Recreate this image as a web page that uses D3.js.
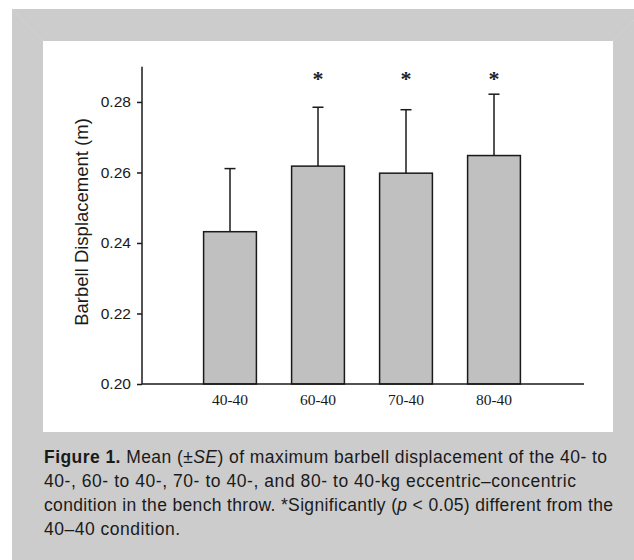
<!DOCTYPE html>
<html>
<head>
<meta charset="utf-8">
<script src="https://cdn.jsdelivr.net/npm/d3@7"></script>
<style>
  body { margin: 0; background: #fff; }
  svg { display: block; }
</style>
</head>
<body>
<svg id="chart" width="634" height="560"></svg>
<script>
// data
const categories = ["40-40", "60-40", "70-40", "80-40"];
const means = [0.2432, 0.2618, 0.2598, 0.2648];
const se = [0.0179, 0.0167, 0.0180, 0.0174];
const significant = [false, true, true, true];
const yTicks = [0.20, 0.22, 0.24, 0.26, 0.28];

const captionLines = [
    [{ t: "Figure 1.", b: true }, { t: " Mean (\u00B1" }, { t: "SE", i: true }, { t: ") of maximum barbell displacement of the 40- to" }],
    [{ t: "40-, 60- to 40-, 70- to 40-, and 80- to 40-kg eccentric\u2013concentric" }],
    [{ t: "condition in the bench throw. *Significantly (" }, { t: "p", i: true }, { t: " < 0.05) different from the" }],
    [{ t: "40\u201340 condition." }]
];
// right end of each caption line in the figure
const captionEnds = [607, 576, 613, 180];

var svg = d3.select("#chart");

// frame
svg.append("rect").attr("x", 12).attr("y", 9).attr("width", 622).attr("height", 551).attr("fill", "#cccccc");
svg.append("rect").attr("x", 43).attr("y", 41).attr("width", 570).attr("height", 391).attr("fill", "#ffffff");
// faint bevel corners
svg.append("line").attr("x1", 12).attr("y1", 9).attr("x2", 43).attr("y2", 41).attr("stroke", "#d2d2d2").attr("stroke-width", 1);
svg.append("line").attr("x1", 634).attr("y1", 20).attr("x2", 613).attr("y2", 41).attr("stroke", "#d2d2d2").attr("stroke-width", 1);

var axisX0 = 142, axisX1 = 584;

var x = d3.scaleBand()
    .domain(categories)
    .range([186, 538])
    .paddingInner(0.4)
    .paddingOuter(0.2);

var y = d3.scaleLinear()
    .domain([0.20, 0.29])
    .range([384, 66.7]);

var g = svg.append("g");

// bars
g.selectAll("rect.bar")
    .data(categories)
    .join("rect")
    .attr("class", "bar")
    .attr("x", d => x(d))
    .attr("width", x.bandwidth())
    .attr("y", (d, i) => y(means[i]))
    .attr("height", (d, i) => y(0.20) - y(means[i]))
    .attr("fill", "#c0c0c0")
    .attr("stroke", "#1a1a1a")
    .attr("stroke-width", 1.5);

// error bars (upper only)
var cx = d => x(d) + x.bandwidth() / 2;
g.selectAll("line.err")
    .data(categories)
    .join("line")
    .attr("x1", cx).attr("x2", cx)
    .attr("y1", (d, i) => y(means[i]))
    .attr("y2", (d, i) => y(means[i] + se[i]))
    .attr("stroke", "#1a1a1a")
    .attr("stroke-width", 1.5);

g.selectAll("line.cap")
    .data(categories)
    .join("line")
    .attr("x1", d => cx(d) - 5.5).attr("x2", d => cx(d) + 5.5)
    .attr("y1", (d, i) => y(means[i] + se[i]))
    .attr("y2", (d, i) => y(means[i] + se[i]))
    .attr("stroke", "#1a1a1a")
    .attr("stroke-width", 1.5);

// significance stars
g.selectAll("text.star")
    .data(categories.filter((d, i) => significant[i]))
    .join("text")
    .attr("x", cx)
    .attr("y", 86)
    .attr("text-anchor", "middle")
    .attr("font-family", "Liberation Serif, Times New Roman, serif")
    .attr("font-weight", "bold")
    .attr("font-size", 22)
    .attr("fill", "#222")
    .text("*");

// y axis
var yAxis = d3.axisLeft(y)
    .tickValues(yTicks)
    .tickFormat(d3.format(".2f"))
    .tickSize(5)
    .tickSizeOuter(0);

var yg = svg.append("g")
    .attr("transform", "translate(" + axisX0 + ",0)")
    .call(yAxis);
yg.select(".domain").remove();
yg.selectAll("line").attr("stroke", "#1a1a1a").attr("stroke-width", 1.5);
yg.selectAll("text")
    .attr("font-family", "Liberation Sans, Arial, sans-serif")
    .attr("font-size", 15.5)
    .attr("fill", "#1a1a1a")
    .attr("dx", "-0.2em");

svg.append("line")
    .attr("x1", axisX0).attr("x2", axisX0)
    .attr("y1", y(0.29)).attr("y2", y(0.20))
    .attr("stroke", "#1a1a1a").attr("stroke-width", 1.5);

// x axis
svg.append("line")
    .attr("x1", axisX0).attr("x2", axisX1)
    .attr("y1", y(0.20)).attr("y2", y(0.20))
    .attr("stroke", "#1a1a1a").attr("stroke-width", 1.5);

svg.selectAll("text.xlab")
    .data(categories)
    .join("text")
    .attr("class", "xlab")
    .attr("x", cx)
    .attr("y", 405)
    .attr("text-anchor", "middle")
    .attr("font-family", "Liberation Serif, Times New Roman, serif")
    .attr("font-size", 15.5)
    .attr("fill", "#1a1a1a")
    .text(d => d);

// y label
svg.append("text")
    .attr("transform", "translate(88,222) rotate(-90)")
    .attr("text-anchor", "middle")
    .attr("font-family", "Liberation Sans, Arial, sans-serif")
    .attr("font-size", 18.5)
    .attr("fill", "#1a1a1a")
    .text("Barbell Displacement (m)");

// caption
var cap = svg.append("g");
captionLines.forEach((parts, li) => {
    let t = cap.append("text")
        .attr("x", 44)
        .attr("y", 463 + li * 23.9)
        .attr("font-family", "Liberation Sans, Arial, sans-serif")
        .attr("font-size", 17.5)
        .attr("fill", "#1a1a1a")
        .attr("textLength", captionEnds[li] - 44)
        .attr("lengthAdjust", "spacing");
    parts.forEach(p => {
        t.append("tspan")
            .attr("font-weight", p.b ? "bold" : null)
            .attr("font-style", p.i ? "italic" : null)
            .text(p.t);
    });
});
</script>
</body>
</html>
